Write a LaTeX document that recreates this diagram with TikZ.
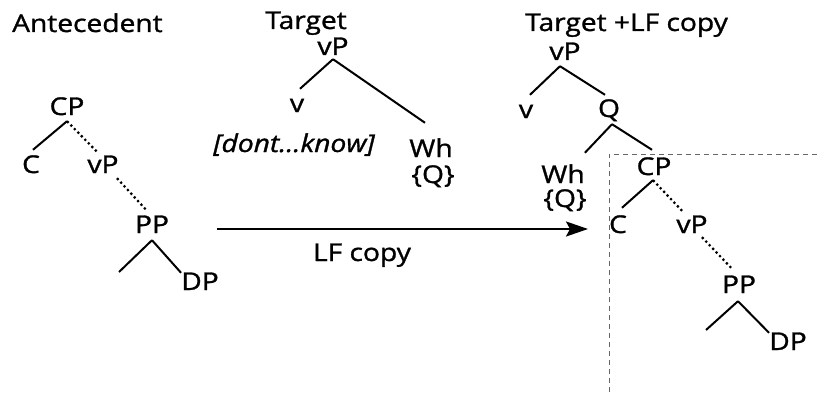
\documentclass[tikz,border=0pt]{standalone}
\usepackage{fontspec}
\setmainfont[FakeStretch=1.15,FakeBold=1.2]{Open Sans}
\usetikzlibrary{arrows.meta}
\begin{document}
\begin{tikzpicture}[x=1pt,y=-1pt,
  lbl/.style={inner sep=0pt,anchor=base,text height=17pt,text depth=0pt,font=\fontsize{24.5}{28}\selectfont},
  ttl/.style={inner sep=0pt,font=\fontsize{24.5}{28}\selectfont},
  branch/.style={line width=2pt},
  dotbranch/.style={line width=2.2pt,dash pattern=on 2.2pt off 2.8pt},
  box/.style={line width=1pt,draw=black!60,dash pattern=on 5pt off 4pt},
  arr/.style={line width=2.2pt,-{Stealth[length=22pt,width=15pt,inset=4pt]}}]
\useasboundingbox (0,0) rectangle (817,396);
% titles
\node[ttl,anchor=base west] (tAnt) at (12,32) {Antecedent};
\node[ttl,anchor=base] (tTar) at (306,29) {Target};
\node[ttl,anchor=base west] (tTLF) at (525,31) {Target +LF copy};
% antecedent tree
\node[lbl] (CP) at (67,115) {CP};
\node[lbl] (C) at (31,173) {C};
\node[lbl] (vP) at (103,173) {vP};
\node[lbl] (PP) at (152,233) {PP};
\node[lbl] (DP) at (200,290) {DP};
\coordinate (PPl) at (119,272);
\draw[branch] ([yshift=-6pt]CP.south) -- ([xshift=2pt,yshift=6pt]C.north);
\draw[dotbranch] ([yshift=-6pt]CP.south) -- ([xshift=-6pt,yshift=4pt]vP.north);
\draw[dotbranch] ([xshift=14pt,yshift=-5pt]vP.south) -- ([xshift=-5pt,yshift=5pt]PP.north);
\draw[branch] ([yshift=-7pt]PP.south) -- (PPl);
\draw[branch] ([yshift=-7pt]PP.south) -- (DP.north west);
% target tree
\node[lbl] (tvP) at (333,55) {vP};
\node[lbl] (tv) at (297,112) {v};
\node[lbl] (dk) at (294,152) {\itshape [dont...know]};
\node[lbl] (tWh) at (431,157) {Wh};
\node[lbl] (tQ) at (433,183) {\{Q\}};
\draw[branch] ([yshift=-4pt]tvP.south) -- ([xshift=3pt,yshift=6pt]tv.north);
\draw[branch] ([yshift=-4pt]tvP.south) -- ([xshift=-6pt,yshift=17pt]tWh.north);
% target + LF copy tree
\node[lbl] (rvP) at (565,60) {vP};
\node[lbl] (rv) at (526,118) {v};
\node[lbl] (rQ) at (609,117) {Q};
\node[lbl] (rWh) at (563,183) {Wh};
\node[lbl] (rQb) at (565,207) {\{Q\}};
\node[lbl] (rCP) at (654,175) {CP};
\node[lbl] (rC) at (618,233) {C};
\node[lbl] (rvP2) at (692,233) {vP};
\node[lbl] (rPP) at (739,293) {PP};
\node[lbl] (rDP) at (788,350) {DP};
\coordinate (rPPl) at (706,330);
\draw[branch] ([xshift=-5pt,yshift=-6pt]rvP.south) -- ([xshift=4pt,yshift=6pt]rv.north);
\draw[branch] ([xshift=-5pt,yshift=-6pt]rvP.south) -- ([xshift=-4pt,yshift=5pt]rQ.north);
\draw[branch] ([xshift=3pt,yshift=-7pt]rQ.south) -- ([yshift=13pt]rWh.north east);
\draw[branch] ([xshift=3pt,yshift=-7pt]rQ.south) -- ([xshift=-2pt,yshift=8pt]rCP.north);
\draw[branch] ([xshift=-1pt,yshift=-5pt]rCP.south) -- ([xshift=4pt,yshift=8pt]rC.north);
\draw[dotbranch] ([xshift=-1pt,yshift=-5pt]rCP.south) -- ([xshift=-9pt,yshift=4pt]rvP2.north);
\draw[dotbranch] ([xshift=10pt,yshift=-4pt]rvP2.south) -- ([xshift=-6pt,yshift=6pt]rPP.north);
\draw[branch] ([xshift=-1pt,yshift=-8pt]rPP.south) -- (rPPl);
\draw[branch] ([xshift=-1pt,yshift=-8pt]rPP.south) -- (rDP.north west);
% dashed box
\coordinate (bxR) at (817,154);
\coordinate (bxC) at (609,154);
\coordinate (bxB) at (609,392);
\draw[box] (bxR) -- (bxC) -- (bxB);
% arrow
\coordinate (aS) at (217,229);
\coordinate (aE) at (588,229);
\draw[arr] (aS) -- (aE);
\node[ttl,anchor=base] (lf) at (362,261) {LF copy};
\end{tikzpicture}
\end{document}
